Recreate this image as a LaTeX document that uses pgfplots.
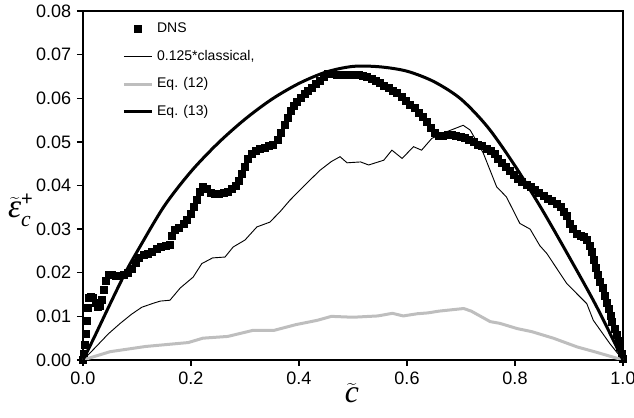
\documentclass[border=0pt]{standalone}
\usepackage{pgfplots}
\pgfplotsset{compat=1.18}
\usepackage{fontspec}
\setmainfont{Liberation Sans}
\newfontfamily\lserif{Liberation Serif}
\definecolor{eqgray}{RGB}{190,190,190}
\begin{document}
\begin{tikzpicture}
\begin{axis}[
  scale only axis, width=324pt, height=209.4pt,
  xmin=0, xmax=1, ymin=0, ymax=0.08,
  clip mode=individual,
  xtick={0,0.2,0.4,0.6,0.8,1},
  ytick={0,0.01,0.02,0.03,0.04,0.05,0.06,0.07,0.08},
  scaled y ticks=false, scaled x ticks=false,
  xticklabel style={/pgf/number format/.cd, fixed, fixed zerofill, precision=1},
  yticklabel style={/pgf/number format/.cd, fixed, fixed zerofill, precision=2},
  /pgf/number format/assume math mode=true,
  tick label style={font=\fontsize{10.8}{12}\selectfont},
  tick align=outside, xtick pos=bottom, ytick pos=left,
  major tick length=3.6pt,
  tick style={black, line width=0.8pt},
  axis line style={line width=0.9pt},
  legend style={draw=none, fill=none, at={(0.063,0.986)}, anchor=north west,
    font=\fontsize{8.4}{10}\selectfont, row sep=5pt},
  legend cell align=left,
]
\addplot[only marks, mark=square*, mark size=2.1pt, black] coordinates {
(0.000,0.0000)(0.002,0.0015)(0.004,0.0035)(0.006,0.0060)(0.007,0.0090)(0.009,0.0120)
(0.011,0.0142)(0.015,0.0145)(0.019,0.0142)(0.023,0.0132)(0.027,0.0122)(0.031,0.0125)
(0.035,0.0138)(0.039,0.0160)(0.043,0.0182)(0.047,0.0196)(0.053,0.0195)(0.060,0.0192)
(0.067,0.0193)(0.075,0.0196)(0.083,0.0199)(0.090,0.0208)(0.097,0.0222)(0.104,0.0234)
(0.112,0.0240)(0.120,0.0244)(0.128,0.0248)(0.136,0.0254)(0.145,0.0259)(0.153,0.0262)
(0.160,0.0264)(0.164,0.0285)(0.170,0.0298)(0.178,0.0303)(0.186,0.0312)(0.193,0.0322)
(0.200,0.0336)(0.206,0.0352)(0.211,0.0368)(0.216,0.0386)(0.222,0.0396)(0.229,0.0392)
(0.236,0.0384)(0.244,0.0380)(0.252,0.0380)(0.260,0.0383)(0.268,0.0386)(0.276,0.0393)
(0.283,0.0400)(0.289,0.0410)(0.294,0.0427)(0.300,0.0443)(0.306,0.0460)(0.312,0.0473)
(0.320,0.0480)(0.328,0.0483)(0.336,0.0486)(0.344,0.0490)(0.352,0.0494)(0.360,0.0505)
(0.366,0.0520)(0.373,0.0538)(0.379,0.0556)(0.384,0.0570)(0.390,0.0582)(0.396,0.0592)
(0.403,0.0601)(0.410,0.0610)(0.417,0.0618)(0.424,0.0625)(0.431,0.0632)(0.438,0.0640)
(0.446,0.0648)(0.454,0.0655)(0.462,0.0655)(0.470,0.0654)(0.478,0.0653)(0.486,0.0653)
(0.494,0.0653)(0.502,0.0653)(0.510,0.0653)(0.518,0.0651)(0.526,0.0648)(0.534,0.0644)
(0.542,0.0640)(0.550,0.0636)(0.558,0.0629)(0.566,0.0623)(0.574,0.0618)(0.582,0.0612)
(0.590,0.0604)(0.598,0.0595)(0.606,0.0586)(0.614,0.0577)(0.622,0.0567)(0.630,0.0557)
(0.637,0.0545)(0.644,0.0532)(0.651,0.0520)(0.659,0.0514)(0.667,0.0514)(0.675,0.0515)
(0.683,0.0515)(0.691,0.0514)(0.699,0.0512)(0.707,0.0509)(0.715,0.0505)(0.723,0.0500)
(0.731,0.0494)(0.739,0.0490)(0.747,0.0485)(0.755,0.0479)(0.762,0.0472)(0.769,0.0462)
(0.776,0.0452)(0.783,0.0442)(0.790,0.0433)(0.797,0.0424)(0.805,0.0415)(0.813,0.0408)
(0.821,0.0401)(0.829,0.0396)(0.837,0.0389)(0.845,0.0383)(0.853,0.0377)(0.861,0.0370)
(0.869,0.0364)(0.877,0.0357)(0.884,0.0350)(0.890,0.0340)(0.896,0.0330)(0.902,0.0313)
(0.908,0.0300)(0.914,0.0290)(0.921,0.0285)(0.927,0.0282)(0.933,0.0276)(0.938,0.0262)
(0.942,0.0248)(0.946,0.0230)(0.950,0.0212)(0.954,0.0196)(0.958,0.0180)(0.962,0.0165)
(0.966,0.0148)(0.970,0.0132)(0.974,0.0117)(0.977,0.0102)(0.980,0.0088)(0.984,0.0072)
(0.988,0.0058)(0.992,0.0045)(0.995,0.0030)(0.998,0.0015)(1.000,0.0002)
};
\addlegendentry{DNS}
\addplot[black, line width=0.55pt] coordinates {
(0,0)(0.02,0.0025)(0.047,0.006)(0.069,0.0084)(0.09,0.0105)(0.109,0.0121)(0.13,0.0130)
(0.143,0.0135)(0.161,0.0137)(0.18,0.0165)(0.204,0.0190)(0.22,0.0221)(0.24,0.0234)
(0.263,0.0236)(0.278,0.0259)(0.30,0.0275)(0.322,0.0305)(0.346,0.0316)(0.365,0.0340)
(0.383,0.0366)(0.41,0.0400)(0.439,0.0435)(0.46,0.0455)(0.476,0.0466)(0.489,0.0452)
(0.514,0.0454)(0.529,0.0447)(0.557,0.0458)(0.572,0.0481)(0.591,0.0462)(0.612,0.0489)
(0.627,0.0481)(0.646,0.0508)(0.673,0.0523)(0.704,0.0538)(0.717,0.0527)(0.741,0.0475)
(0.766,0.0397)(0.784,0.0374)(0.809,0.0313)(0.828,0.0300)(0.846,0.0262)(0.859,0.0244)
(0.896,0.0175)(0.933,0.0129)(0.945,0.0091)(0.976,0.0037)(1.0,0)
};
\addlegendentry{0.125*classical,}
\addplot[eqgray, line width=1.8pt] coordinates {
(0,0)(0.05,0.0019)(0.116,0.0031)(0.195,0.0040)(0.222,0.0050)(0.268,0.0054)(0.315,0.0068)
(0.354,0.0068)(0.394,0.0081)(0.434,0.0091)(0.46,0.0100)(0.5,0.0098)(0.546,0.0101)
(0.573,0.0107)(0.593,0.0101)(0.619,0.0106)(0.639,0.0108)(0.659,0.0112)(0.705,0.0118)
(0.719,0.0112)(0.754,0.0088)(0.772,0.0084)(0.804,0.0072)(0.831,0.0065)(0.871,0.0050)
(0.915,0.0030)(0.95,0.0018)(1.0,0)
};
\addlegendentry{Eq. (12)}
\addplot[black, line width=1.8pt, smooth, tension=0.5] coordinates {
(0,0)(0.02,0.005)(0.05,0.0128)(0.078,0.0199)(0.1,0.0248)(0.15,0.0352)(0.2,0.0432)
(0.25,0.0497)(0.3,0.0552)(0.35,0.0598)(0.4,0.0634)(0.45,0.0660)(0.5,0.0673)(0.55,0.0672)
(0.6,0.0662)(0.65,0.0638)(0.7,0.0598)(0.75,0.0533)(0.8,0.0445)(0.85,0.0345)(0.9,0.0237)
(0.95,0.0125)(1.0,0.0)
};
\addlegendentry{Eq. (13)}
\node[anchor=center, inner sep=0pt, font=\fontsize{20}{22}\selectfont] at (axis description cs:-0.115,0.43) {$\widetilde{\mbox{\lserif\itshape ε}}_{\mbox{\lserif\itshape\fontsize{13}{14}\selectfont c}}^{\mbox{\fontsize{12}{13}\selectfont +}}$};
\node[anchor=center, inner sep=0pt, font=\fontsize{19}{21}\selectfont] at (axis description cs:0.498,-0.095) {$\widetilde{\mbox{\lserif\itshape c}}$};
\end{axis}
\pgfresetboundingbox
\path ([xshift=-49.8pt,yshift=-34.8pt]current axis.south west) rectangle ([xshift=6.6pt,yshift=6.6pt]current axis.north east);
\end{tikzpicture}
\end{document}
